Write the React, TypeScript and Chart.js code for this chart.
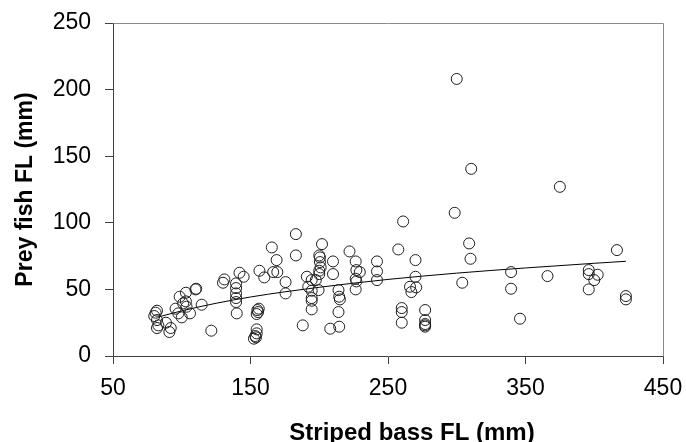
import React, { useEffect, useRef } from "react";
import { Chart, registerables } from "chart.js";

Chart.register(...registerables);

// Striped bass fork length (mm) of each prey observation
const bassFL: number[] = [
  80, 81, 82, 82, 82, 83, 88.5, 91, 92, 95.5, 97.5, 98.5, 100, 101, 103, 103, 103.5, 106, 110, 110.5,
  114.5, 121.5, 130, 131, 139.5, 139.5, 139.5, 139.5, 139.5, 140, 142, 145, 155, 155.5, 156, 154.5,
  154.5, 154.5, 153.5, 152.5, 154, 156.5, 160, 165.5, 169, 166.5, 169.5, 175.5, 175.5, 183, 183, 188,
  191, 192, 194.5, 194.5, 194.5, 194.5, 194.5, 197.5, 199.5, 200, 200.5, 200.5, 201, 200, 200, 202,
  208, 210, 210, 214, 214.5, 215, 214, 214.5, 222, 226.5, 227, 229.5, 226.5, 227, 226.5, 242, 242,
  242, 257.5, 261, 260, 260, 260, 270, 270, 266, 267, 270.5, 277, 277, 277, 277, 277, 298.5, 300,
  304, 309, 310, 310.5, 339.5, 339.5, 346, 366, 375, 396, 396, 402.5, 400, 396, 416.5, 423, 423,
];

// Prey fish fork length (mm), paired with bassFL
const preyFL: number[] = [
  30, 32.5, 34, 27, 21, 23, 25, 18, 21, 35.5, 32, 44.5, 29, 39.5, 47.5, 41, 37, 32, 50, 50.5,
  38.5, 19, 55, 57.5, 54.5, 51, 47, 43.5, 40.5, 32, 62.5, 59.5, 34.5, 33, 35.5, 31.5,
  20, 17, 15, 13, 14, 64, 59, 81.5, 72, 63, 63, 55.5, 47, 91.5, 75.5, 23,
  59.5, 52, 57, 49, 43.5, 41.5, 35, 57, 49.5, 75.5, 74, 70.5, 66.5, 64, 61.5, 84,
  20.5, 71, 61.5, 49.5, 44.5, 42.5, 33, 22, 78.5, 71, 64.5, 63, 58, 56, 50, 71, 63.5,
  57, 80, 101, 36, 33, 25, 72, 59.5, 52, 48, 51.5, 34.5, 27, 24, 23, 22, 107.5, 208,
  55, 84.5, 73, 140.5, 63, 50.5, 28, 60, 127, 64.5, 61.5, 61, 57, 50, 79.5, 45, 42.5,
];

// Fitted trend curve
const trendX: number[] = [83, 100, 125, 150, 175, 200, 250, 300, 350, 400, 423];
const trendY: number[] = [29.3, 33.9, 39.6, 44.3, 48.2, 51.6, 57.5, 62.2, 66.1, 69.6, 71.1];

const xTicks: number[] = [50, 150, 250, 350, 450];
const yTicks: number[] = [0, 50, 100, 150, 200, 250];

const xTitle = "Striped bass FL (mm)";
const yTitle = "Prey fish FL (mm)";

const FONT = "'Liberation Sans', Arial, Helvetica, sans-serif";

export default function App() {
  const canvasRef = useRef<HTMLCanvasElement | null>(null);

  useEffect(() => {
    const canvas = canvasRef.current;
    if (!canvas) return;

    const framePlugin = {
      id: "frameAndTitles",
      afterDraw(chart: any) {
        const { ctx, chartArea } = chart;
        const { left, right, top, bottom } = chartArea;
        ctx.save();
        // top and right frame
        ctx.strokeStyle = "#8a8a8a";
        ctx.lineWidth = 1;
        ctx.beginPath();
        ctx.moveTo(Math.round(left) + 0.5, Math.round(top) + 0.5);
        ctx.lineTo(Math.round(right) + 0.5, Math.round(top) + 0.5);
        ctx.lineTo(Math.round(right) + 0.5, Math.round(bottom) + 0.5);
        ctx.stroke();

        // axis titles
        ctx.fillStyle = "#000";
        ctx.font = `bold 24px ${FONT}`;
        ctx.textAlign = "center";
        ctx.textBaseline = "alphabetic";
        ctx.fillText(xTitle, (left + right) / 2 + 24, 440);

        ctx.font = `bold 23px ${FONT}`;
        ctx.translate(32, (top + bottom) / 2);
        ctx.rotate(-Math.PI / 2);
        ctx.fillText(yTitle, 0, 0);
        ctx.restore();
      },
    };

    const chart = new Chart(canvas, {
      type: "scatter",
      data: {
        datasets: [
          {
            label: "Prey",
            data: bassFL.map((x, i) => ({ x, y: preyFL[i] })),
            pointRadius: 5.5,
            pointBorderWidth: 1,
            pointBorderColor: "#1e1e1e",
            pointBackgroundColor: "rgba(0,0,0,0)",
            showLine: false,
          },
          {
            label: "Trend",
            data: trendX.map((x, i) => ({ x, y: trendY[i] })),
            showLine: true,
            pointRadius: 0,
            borderColor: "#000",
            borderWidth: 1,
            cubicInterpolationMode: "monotone",
            fill: false,
          },
        ],
      },
      options: {
        responsive: false,
        devicePixelRatio: 1,
        animation: false,
        layout: { padding: { top: 23, right: 23, left: 0, bottom: 0 } },
        plugins: {
          legend: { display: false },
          tooltip: { enabled: false },
        },
        scales: {
          x: {
            type: "linear",
            min: 50,
            max: 450,
            afterBuildTicks: (scale: any) => {
              scale.ticks = xTicks.map((v) => ({ value: v }));
            },
            afterFit: (scale: any) => {
              scale.height = 86;
              scale.paddingLeft = 0;
              scale.paddingRight = 0;
            },
            ticks: {
              color: "#000",
              font: { family: FONT, size: 23 },
              padding: 11,
              maxRotation: 0,
              autoSkip: false,
            },
            grid: {
              drawOnChartArea: false,
              drawTicks: true,
              tickLength: 8,
              color: "#404040",
            },
            border: { display: true, color: "#404040", width: 1 },
          },
          y: {
            type: "linear",
            min: 0,
            max: 250,
            afterBuildTicks: (scale: any) => {
              scale.ticks = yTicks.map((v) => ({ value: v }));
            },
            afterFit: (scale: any) => {
              scale.width = 113;
              scale.paddingTop = 0;
              scale.paddingBottom = 0;
            },
            ticks: {
              color: "#000",
              font: { family: FONT, size: 23 },
              padding: 14,
              autoSkip: false,
            },
            grid: {
              drawOnChartArea: false,
              drawTicks: true,
              tickLength: 8,
              color: "#404040",
            },
            border: { display: true, color: "#404040", width: 1 },
          },
        },
      },
      plugins: [framePlugin],
    } as any);

    return () => {
      chart.destroy();
    };
  }, []);

  return (
    <div style={{ position: "fixed", left: 0, top: 0, width: 686, height: 442, background: "#fff" }}>
      <canvas ref={canvasRef} width={686} height={442} style={{ width: 686, height: 442 }} />
    </div>
  );
}
